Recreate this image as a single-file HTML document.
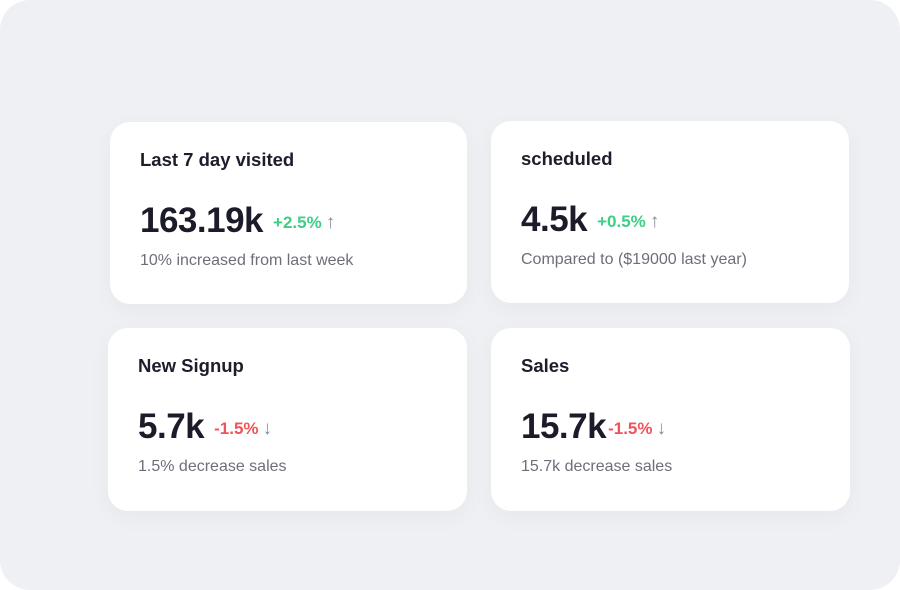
<!DOCTYPE html>
<html><head><meta charset="utf-8"><style>
html,body{margin:0;padding:0;width:900px;height:590px;background:#fff;overflow:hidden;font-family:"Liberation Sans",sans-serif}
.panel{position:absolute;left:0;top:0;width:900px;height:590px;background:#eff0f4;border-radius:30px}
.card{position:absolute;background:#fff;border-radius:20px;box-shadow:0 6px 24px rgba(30,35,60,0.04)}
.title{position:absolute;left:30px;top:27px;font-size:18.5px;font-weight:bold;color:#1d1d2b}
.num{position:absolute;left:30px;top:79px;font-size:35px;font-weight:bold;color:#1b1b29;letter-spacing:-0.5px;white-space:nowrap}
.pct{font-size:17px;font-weight:bold;margin-left:10px;vertical-align:4px;letter-spacing:0}
.up{color:#3ccf86}.down{color:#f0545a}
.arr{font-size:19px;color:#8a8a96;font-weight:normal;vertical-align:4px;margin-left:4px;letter-spacing:0}
.sub{position:absolute;left:30px;top:130px;font-size:16px;color:#6e6e7a}
</style></head><body>
<div class="panel">
<div class="card" style="left:110px;top:122px;width:357px;height:182px">
 <div class="title">Last 7 day visited</div>
 <div class="num">163.19k<span class="pct up">+2.5%</span><span class="arr">↑</span></div>
 <div class="sub">10% increased from last week</div>
</div>
<div class="card" style="left:491px;top:121px;width:358px;height:182px">
 <div class="title">scheduled</div>
 <div class="num">4.5k<span class="pct up">+0.5%</span><span class="arr">↑</span></div>
 <div class="sub">Compared to ($19000 last year)</div>
</div>
<div class="card" style="left:108px;top:328px;width:359px;height:183px">
 <div class="title">New Signup</div>
 <div class="num">5.7k<span class="pct down">-1.5%</span><span class="arr">↓</span></div>
 <div class="sub">1.5% decrease sales</div>
</div>
<div class="card" style="left:491px;top:328px;width:359px;height:183px">
 <div class="title">Sales</div>
 <div class="num">15.7k<span class="pct down" style="margin-left:2px">-1.5%</span><span class="arr">↓</span></div>
 <div class="sub">15.7k decrease sales</div>
</div>
</div>
</body></html>
